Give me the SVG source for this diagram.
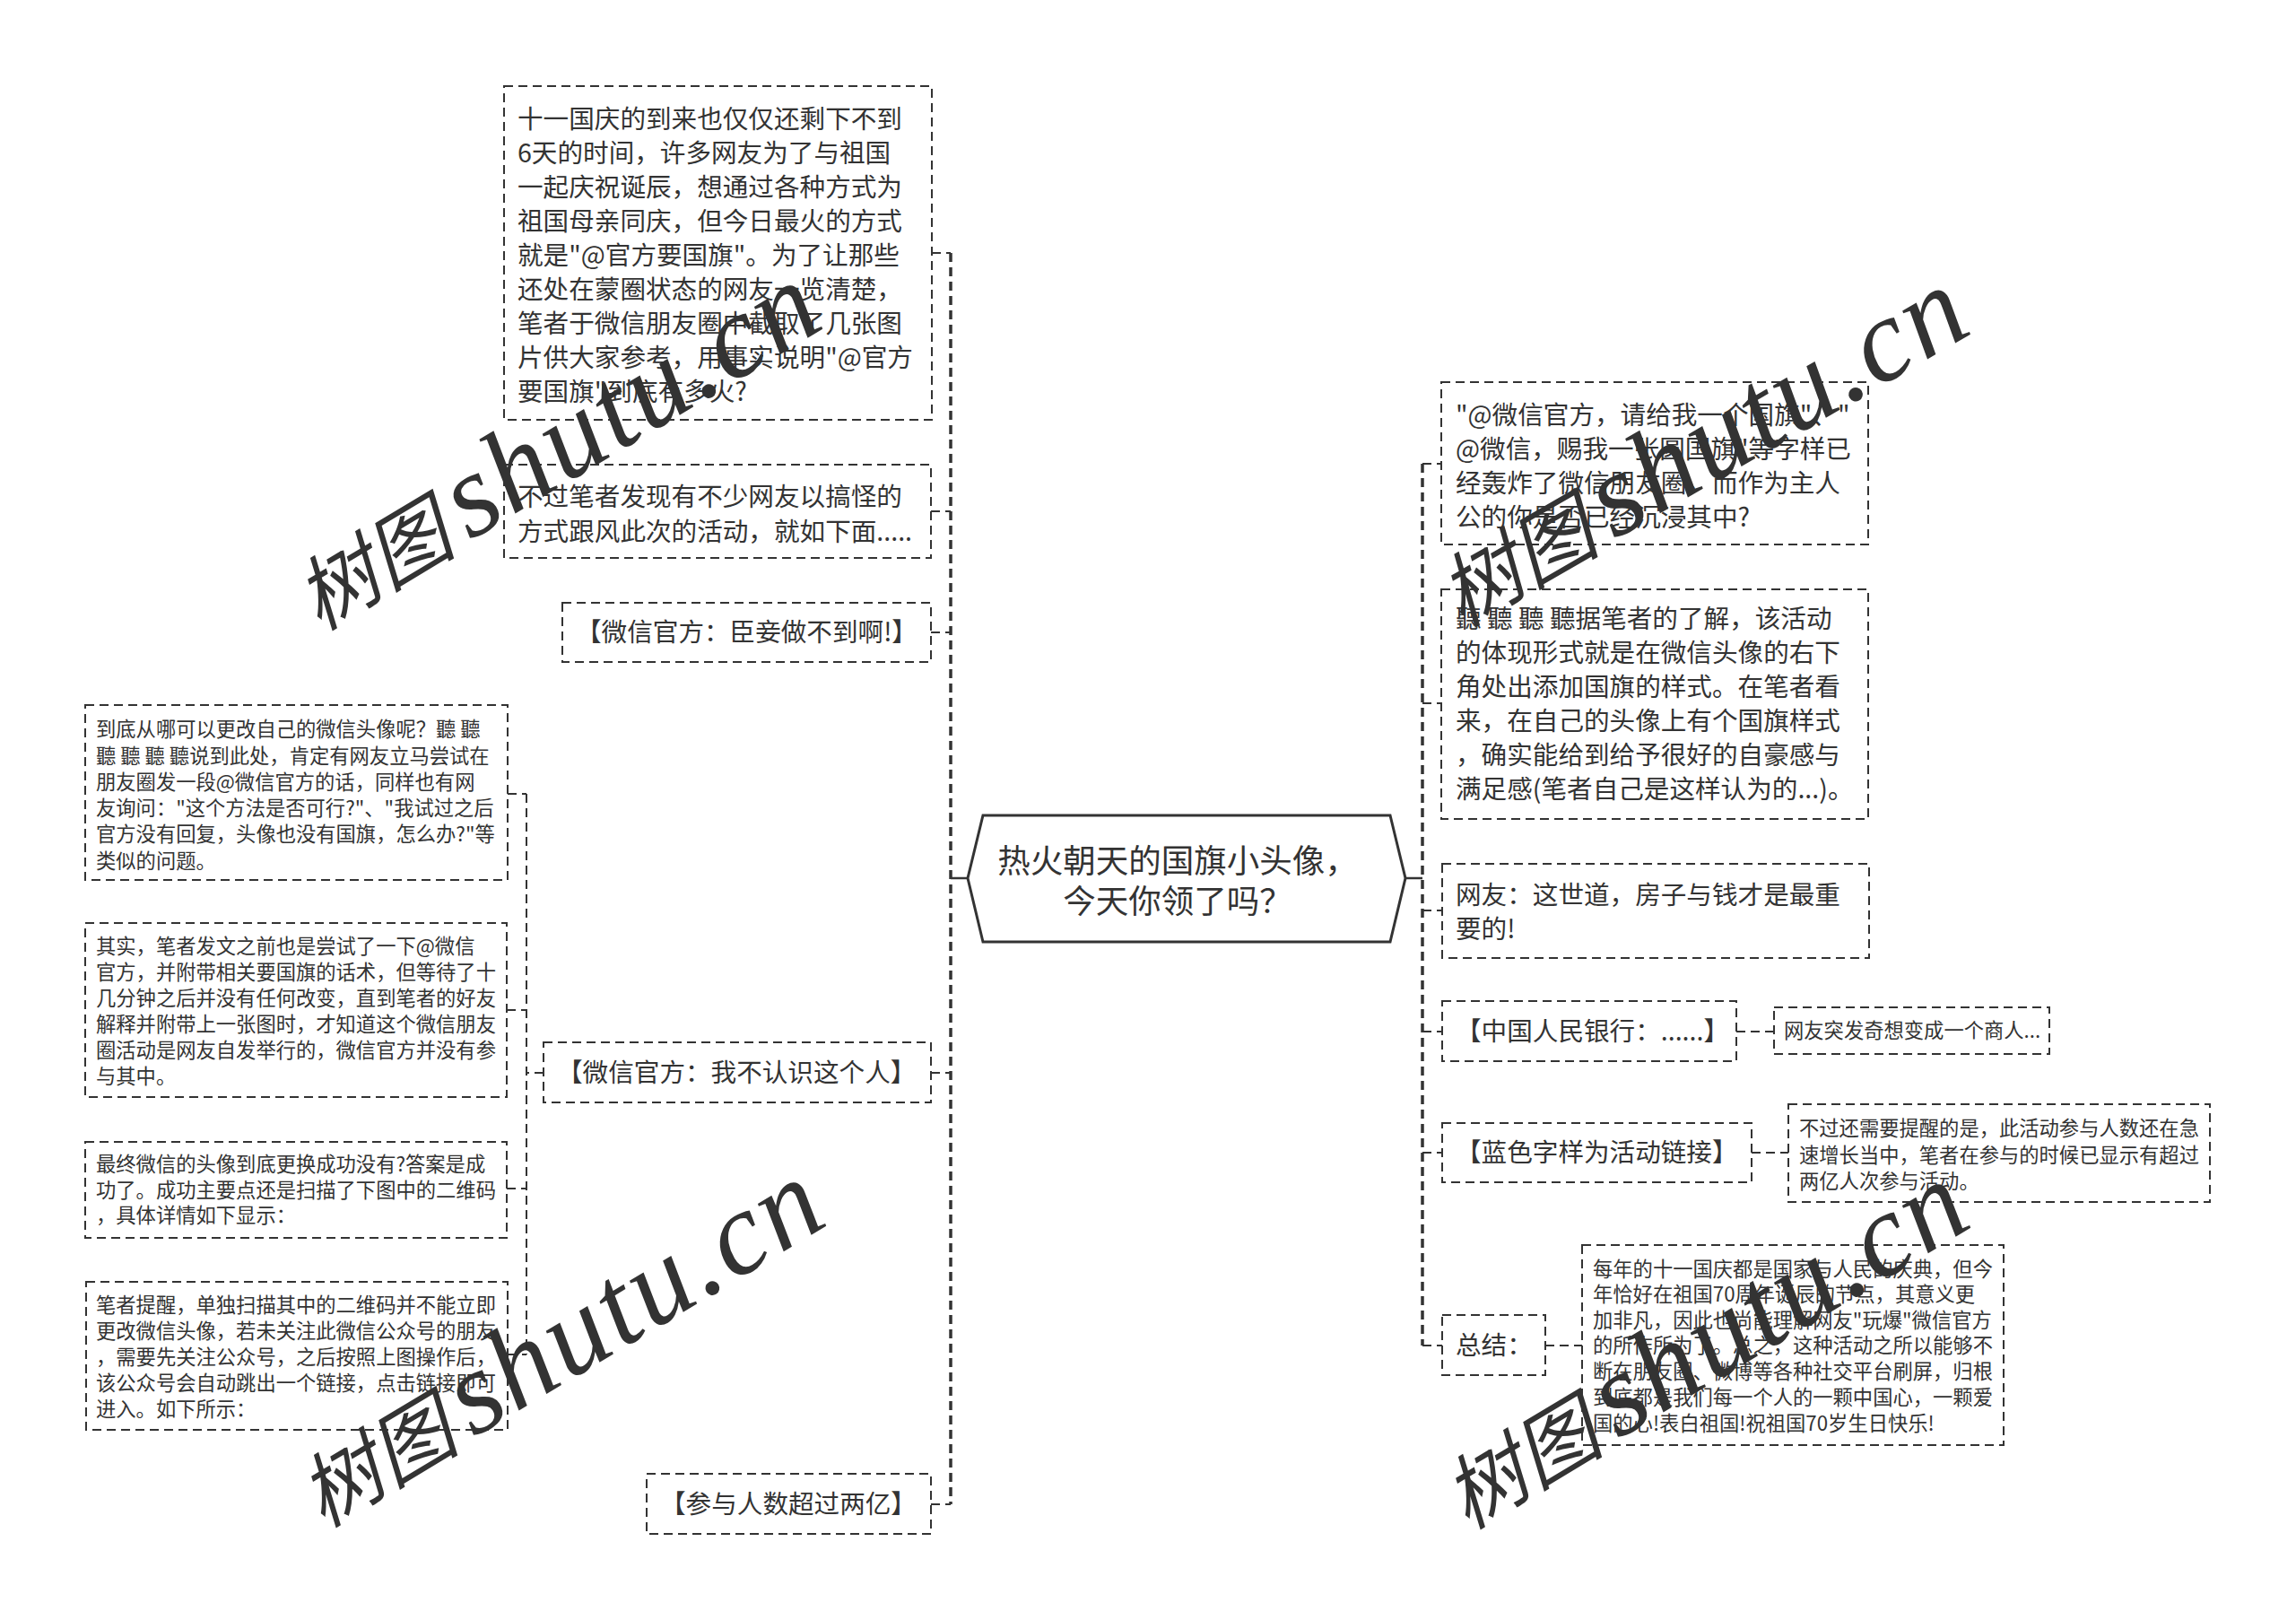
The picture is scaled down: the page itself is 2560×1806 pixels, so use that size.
<svg xmlns="http://www.w3.org/2000/svg" width="2560" height="1806" viewBox="0 0 2560 1806">
<style>
.bg{fill:#ffffff}
.wm{fill:#e4e4e4}
.wmc{font-family:"Noto Sans CJK SC","Noto Sans",sans-serif;font-size:90px;font-style:italic}
.wml{font-family:"Liberation Serif",serif;font-size:132px;font-style:italic;letter-spacing:3px}
.box{fill:none;stroke:#333;stroke-width:2;stroke-dasharray:10 6}
.trunk{fill:none;stroke:#333;stroke-width:3.5;stroke-dasharray:10 6}
.link{fill:none;stroke:#333;stroke-width:2;stroke-dasharray:10 6}
.solid{fill:none;stroke:#333;stroke-width:2.5}
.hex{fill:#fff;stroke:#333;stroke-width:3}
text{font-family:"Noto Sans CJK SC","Noto Sans",sans-serif;fill:#333}
.t28{font-size:28.6px}
.t22{font-size:22.3px}
.t36{font-size:36.5px}
</style>
<rect class="bg" x="0" y="0" width="2560" height="1806"/>

<g id="watermarks" class="wm">
  <text transform="translate(356,704) rotate(-31)"><tspan class="wmc">树图</tspan><tspan class="wml" dx="16">shutu.cn</tspan></text>
  <text transform="translate(360,1704) rotate(-31)"><tspan class="wmc">树图</tspan><tspan class="wml" dx="16">shutu.cn</tspan></text>
  <text transform="translate(1630,700) rotate(-30)"><tspan class="wmc">树图</tspan><tspan class="wml" dx="16">shutu.cn</tspan></text>
  <text transform="translate(1636,1706) rotate(-31)"><tspan class="wmc">树图</tspan><tspan class="wml" dx="16">shutu.cn</tspan></text>
</g>

<g id="connectors">
  <path class="trunk" d="M1060,282 V1677"/>
  <path class="solid" d="M1079,979 H1060"/>
  <path class="link" d="M1039,282 H1060 M1038,570 H1060 M1038,705 H1060 M1038,1196 H1060 M1038,1677 H1060"/>
  <path class="link" d="M587,885 V1510"/>
  <path class="link" d="M566,885 H587 M565,1126 H587 M565,1325 H587 M566,1510 H587 M606,1196 H587"/>
  <path class="trunk" d="M1586,517 V1500"/>
  <path class="solid" d="M1567,979 H1586"/>
  <path class="link" d="M1586,517 H1607 M1586,784 H1607 M1586,1015 H1608 M1586,1150 H1608 M1586,1285 H1608 M1586,1500 H1608"/>
  <path class="link" d="M1936,1150 H1978 M1953,1285 H1994 M1723,1500 H1764"/>
</g>

<g id="center">
  <polygon class="hex" points="1096,909 1550,909 1567,979 1550,1050 1096,1050 1079,979"/>
  <text class="t36" x="1313" y="973" text-anchor="middle">热火朝天的国旗小头像，</text>
  <text class="t36" x="1313" y="1018" text-anchor="middle">今天你领了吗？</text>
</g>

<g id="nodeA">
  <rect class="box" x="562" y="96" width="477" height="372"/>
  <text class="t28" x="577" y="143">十一国庆的到来也仅仅还剩下不到</text>
  <text class="t28" x="577" y="181">6天的时间，许多网友为了与祖国</text>
  <text class="t28" x="577" y="219">一起庆祝诞辰，想通过各种方式为</text>
  <text class="t28" x="577" y="257">祖国母亲同庆，但今日最火的方式</text>
  <text class="t28" x="577" y="295">就是"@官方要国旗"。为了让那些</text>
  <text class="t28" x="577" y="333">还处在蒙圈状态的网友一览清楚，</text>
  <text class="t28" x="577" y="371">笔者于微信朋友圈中截取了几张图</text>
  <text class="t28" x="577" y="409">片供大家参考，用事实说明"@官方</text>
  <text class="t28" x="577" y="447">要国旗"到底有多火?</text>
</g>

<g id="nodeB">
  <rect class="box" x="562" y="518" width="476" height="104"/>
  <text class="t28" x="577" y="564">不过笔者发现有不少网友以搞怪的</text>
  <text class="t28" x="577" y="603">方式跟风此次的活动，就如下面.....</text>
</g>

<g id="nodeC">
  <rect class="box" x="627" y="672" width="411" height="66"/>
  <text class="t28" x="642" y="715">【微信官方：臣妾做不到啊!】</text>
</g>

<g id="nodeI">
  <rect class="box" x="606" y="1162" width="432" height="67"/>
  <text class="t28" x="621" y="1206">【微信官方：我不认识这个人】</text>
</g>

<g id="nodeH">
  <rect class="box" x="721" y="1643" width="317" height="67"/>
  <text class="t28" x="736" y="1687">【参与人数超过两亿】</text>
</g>

<g id="nodeD">
  <rect class="box" x="95" y="786" width="471" height="195"/>
  <text class="t22" x="107" y="821">到底从哪可以更改自己的微信头像呢？聽 聽</text>
  <text class="t22" x="107" y="851">聽 聽 聽 聽说到此处，肯定有网友立马尝试在</text>
  <text class="t22" x="107" y="880">朋友圈发一段@微信官方的话，同样也有网</text>
  <text class="t22" x="107" y="909">友询问："这个方法是否可行?"、"我试过之后</text>
  <text class="t22" x="107" y="938">官方没有回复，头像也没有国旗，怎么办?"等</text>
  <text class="t22" x="107" y="968">类似的问题。</text>
</g>

<g id="nodeE">
  <rect class="box" x="95" y="1029" width="470" height="194"/>
  <text class="t22" x="107" y="1063">其实，笔者发文之前也是尝试了一下@微信</text>
  <text class="t22" x="107" y="1092">官方，并附带相关要国旗的话术，但等待了十</text>
  <text class="t22" x="107" y="1121">几分钟之后并没有任何改变，直到笔者的好友</text>
  <text class="t22" x="107" y="1150">解释并附带上一张图时，才知道这个微信朋友</text>
  <text class="t22" x="107" y="1179">圈活动是网友自发举行的，微信官方并没有参</text>
  <text class="t22" x="107" y="1208">与其中。</text>
</g>

<g id="nodeF">
  <rect class="box" x="95" y="1273" width="470" height="107"/>
  <text class="t22" x="107" y="1306">最终微信的头像到底更换成功没有?答案是成</text>
  <text class="t22" x="107" y="1335">功了。成功主要点还是扫描了下图中的二维码</text>
  <text class="t22" x="107" y="1363">，具体详情如下显示：</text>
</g>

<g id="nodeG">
  <rect class="box" x="96" y="1429" width="470" height="165"/>
  <text class="t22" x="107" y="1463">笔者提醒，单独扫描其中的二维码并不能立即</text>
  <text class="t22" x="107" y="1492">更改微信头像，若未关注此微信公众号的朋友</text>
  <text class="t22" x="107" y="1521">，需要先关注公众号，之后按照上图操作后，</text>
  <text class="t22" x="107" y="1550">该公众号会自动跳出一个链接，点击链接即可</text>
  <text class="t22" x="107" y="1579">进入。如下所示：</text>
</g>

<g id="nodeJ">
  <rect class="box" x="1607" y="426" width="476" height="181"/>
  <text class="t28" x="1623" y="473">"@微信官方，请给我一个国旗"、"</text>
  <text class="t28" x="1623" y="511">@微信，赐我一张圆国旗"等字样已</text>
  <text class="t28" x="1623" y="549">经轰炸了微信朋友圈，而作为主人</text>
  <text class="t28" x="1623" y="587">公的你是否已经沉浸其中?</text>
</g>

<g id="nodeK">
  <rect class="box" x="1607" y="657" width="476" height="256"/>
  <text class="t28" x="1623" y="700">聽 聽 聽 聽据笔者的了解，该活动</text>
  <text class="t28" x="1623" y="738">的体现形式就是在微信头像的右下</text>
  <text class="t28" x="1623" y="776">角处出添加国旗的样式。在笔者看</text>
  <text class="t28" x="1623" y="814">来，在自己的头像上有个国旗样式</text>
  <text class="t28" x="1623" y="852">，确实能给到给予很好的自豪感与</text>
  <text class="t28" x="1623" y="890">满足感(笔者自己是这样认为的...)。</text>
</g>

<g id="nodeL">
  <rect class="box" x="1608" y="963" width="476" height="105"/>
  <text class="t28" x="1623" y="1008">网友：这世道，房子与钱才是最重</text>
  <text class="t28" x="1623" y="1046">要的!</text>
</g>

<g id="nodeM">
  <rect class="box" x="1608" y="1116" width="328" height="67"/>
  <text class="t28" x="1623" y="1160">【中国人民银行：......】</text>
</g>

<g id="nodeN">
  <rect class="box" x="1978" y="1123" width="307" height="52"/>
  <text class="t22" x="1989" y="1157">网友突发奇想变成一个商人...</text>
</g>

<g id="nodeO">
  <rect class="box" x="1608" y="1252" width="345" height="66"/>
  <text class="t28" x="1623" y="1295">【蓝色字样为活动链接】</text>
</g>

<g id="nodeP">
  <rect class="box" x="1994" y="1231" width="470" height="109"/>
  <text class="t22" x="2006" y="1266">不过还需要提醒的是，此活动参与人数还在急</text>
  <text class="t22" x="2006" y="1296">速增长当中，笔者在参与的时候已显示有超过</text>
  <text class="t22" x="2006" y="1325">两亿人次参与活动。</text>
</g>

<g id="nodeQ">
  <rect class="box" x="1608" y="1466" width="115" height="67"/>
  <text class="t28" x="1623" y="1510">总结：</text>
</g>

<g id="nodeR">
  <rect class="box" x="1764" y="1388" width="470" height="223"/>
  <text class="t22" x="1776" y="1423">每年的十一国庆都是国家与人民的庆典，但今</text>
  <text class="t22" x="1776" y="1451">年恰好在祖国70周年诞辰的节点，其意义更</text>
  <text class="t22" x="1776" y="1480">加非凡，因此也尚能理解网友"玩爆"微信官方</text>
  <text class="t22" x="1776" y="1508">的所作所为了。总之，这种活动之所以能够不</text>
  <text class="t22" x="1776" y="1537">断在朋友圈、微博等各种社交平台刷屏，归根</text>
  <text class="t22" x="1776" y="1566">到底都是我们每一个人的一颗中国心，一颗爱</text>
  <text class="t22" x="1776" y="1595">国的心!表白祖国!祝祖国70岁生日快乐!</text>
</g>
</svg>
